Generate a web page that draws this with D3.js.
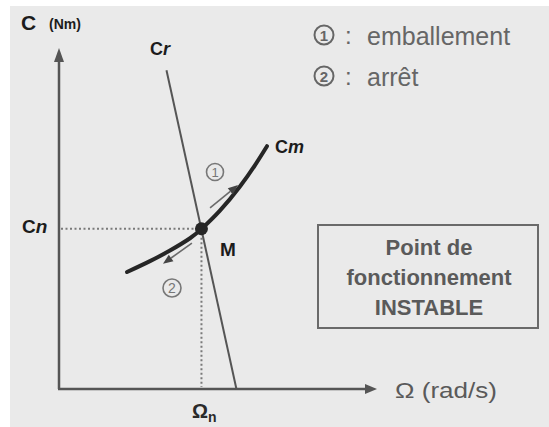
<!DOCTYPE html>
<html>
<head>
<meta charset="utf-8">
<script src="https://cdn.jsdelivr.net/npm/d3@7"></script>
<style>
  html, body { margin: 0; padding: 0; background: #ffffff; }
  svg { display: block; }
  text { font-family: "Liberation Sans", Arial, Helvetica, sans-serif; }
</style>
</head>
<body>
<svg id="chart" width="549" height="427"></svg>
<script>
// Resistant torque line Cr (speed, torque) in arbitrary units
const crOmega = [33.8, 55.8];
const crTorque = [93.5, 0];

// Motor torque curve Cm
const cmOmega  = [21.4, 28.6, 34.9, 41.2, 45.0, 50.6, 56.9, 61.6, 65.4];
const cmTorque = [34.3, 37.5, 40.6, 44.2, 47.1, 52.3, 59.4, 65.6, 71.2];

// Operating point M (Ωn, Cn)
const omegaN = 44.8;
const torqueN = 47.0;

// Direction arrows along Cm: [start, end] in (speed, torque)
const arrowRunaway = [[47.5, 53.1], [56.3, 59.8]];   // ① emballement
const arrowStop    = [[41.8, 42.8], [32.7, 36.7]];   // ② arrêt

const legendItems = [
  { num: "1", text: "emballement" },
  { num: "2", text: "arrêt" }
];
const boxLines = ["Point de", "fonctionnement", "INSTABLE"];

const svg = d3.select("#chart");

// paper background
svg.append("rect").attr("x", 0).attr("y", 0).attr("width", 549).attr("height", 427).attr("fill", "#ffffff");
svg.append("rect").attr("x", 10).attr("y", 6).attr("width", 539).attr("height", 421).attr("fill", "#eaeaea");

const x = d3.scaleLinear().domain([0, 100]).range([59, 377]);
const y = d3.scaleLinear().domain([0, 100]).range([389, 48]);

const axisColor = "#555";

// axes with arrowheads
const axes = svg.append("g");
axes.append("line")
  .attr("x1", x(0)).attr("y1", y(0)).attr("x2", x(0)).attr("y2", y(96))
  .attr("stroke", axisColor).attr("stroke-width", 2.5);
axes.append("line")
  .attr("x1", x(0) - 1).attr("y1", y(0)).attr("x2", x(96.5)).attr("y2", y(0))
  .attr("stroke", axisColor).attr("stroke-width", 2.5);
axes.append("path")
  .attr("d", `M${x(0)},${y(100)} L${x(0) - 5},${y(100) + 14} L${x(0) + 5},${y(100) + 14} Z`)
  .attr("fill", axisColor);
axes.append("path")
  .attr("d", `M${x(100)},${y(0)} L${x(100) - 12},${y(0) - 5} L${x(100) - 12},${y(0) + 5} Z`)
  .attr("fill", axisColor);

// dotted projections of M
const dotted = svg.append("g").attr("stroke", "#7a7a7a").attr("stroke-width", 2)
  .attr("stroke-dasharray", "2,2.5");
dotted.append("line")
  .attr("x1", x(0) + 2).attr("y1", y(torqueN)).attr("x2", x(omegaN)).attr("y2", y(torqueN));
dotted.append("line")
  .attr("x1", x(omegaN)).attr("y1", y(torqueN)).attr("x2", x(omegaN)).attr("y2", y(0) - 2);

// Cr line
const crData = crOmega.map((w, i) => [w, crTorque[i]]);
svg.append("path")
  .datum(crData)
  .attr("d", d3.line().x(d => x(d[0])).y(d => y(d[1])))
  .attr("fill", "none").attr("stroke", "#555").attr("stroke-width", 2);

// Cm curve
const cmData = cmOmega.map((w, i) => [w, cmTorque[i]]);
svg.append("path")
  .datum(cmData)
  .attr("d", d3.line().x(d => x(d[0])).y(d => y(d[1])).curve(d3.curveNatural))
  .attr("fill", "none").attr("stroke", "#262626").attr("stroke-width", 4)
  .attr("stroke-linecap", "round");

// direction arrows
function drawArrow(seg) {
  const [a, b] = seg;
  const x1 = x(a[0]), y1 = y(a[1]), x2 = x(b[0]), y2 = y(b[1]);
  const ang = Math.atan2(y2 - y1, x2 - x1);
  const len = 10, half = 4;
  const bx = x2 - len * Math.cos(ang), by = y2 - len * Math.sin(ang);
  svg.append("line")
    .attr("x1", x1).attr("y1", y1).attr("x2", bx).attr("y2", by)
    .attr("stroke", "#6a6a6a").attr("stroke-width", 1.6);
  svg.append("path")
    .attr("d", `M${x2},${y2} L${bx - half * Math.sin(ang)},${by + half * Math.cos(ang)} L${bx + half * Math.sin(ang)},${by - half * Math.cos(ang)} Z`)
    .attr("fill", "#444");
}
drawArrow(arrowRunaway);
drawArrow(arrowStop);

// operating point M
svg.append("circle")
  .attr("cx", x(omegaN)).attr("cy", y(torqueN)).attr("r", 6.5)
  .attr("fill", "#262626");

// circled numbers
function circled(cx, cy, r, num, size) {
  svg.append("circle").attr("cx", cx).attr("cy", cy).attr("r", r)
    .attr("fill", "none").attr("stroke", "#777").attr("stroke-width", 1.6);
  svg.append("text").attr("x", cx).attr("y", cy + size * 0.36)
    .attr("text-anchor", "middle").attr("font-size", size)
    .attr("fill", "#777").text(num);
}
circled(215, 172, 8.5, "1", 13);
circled(172, 288, 9, "2", 14);

// dark labels
const dark = "#1c1c1c";
function label(px, py, main, sub, size, subSize, anchor) {
  const t = svg.append("text").attr("x", px).attr("y", py)
    .attr("font-size", size).attr("font-weight", "bold").attr("fill", dark)
    .attr("text-anchor", anchor || "start");
  t.append("tspan").text(main);
  if (sub) t.append("tspan").attr("font-style", "italic").attr("font-size", subSize).text(sub);
  return t;
}
label(21, 30, "C", null, 21);
svg.append("text").attr("x", 49).attr("y", 29).attr("font-size", 14)
  .attr("font-weight", "bold").attr("fill", dark).text("(Nm)");
label(150, 55, "C", "r", 18, 18);
label(275, 153, "C", "m", 18, 18);
label(22, 233, "C", "n", 19, 19);
label(220, 256, "M", null, 19);

const omegaLab = svg.append("text").attr("x", 192).attr("y", 418)
  .attr("font-size", 20).attr("font-weight", "bold").attr("fill", "#2a2a2a");
omegaLab.append("tspan").text("Ω");
omegaLab.append("tspan").attr("dy", 4).attr("font-size", 14).text("n");

// axis title
svg.append("text").attr("x", 395).attr("y", 398)
  .attr("font-size", 22).attr("fill", "#5a5a5a")
  .attr("textLength", 102).attr("lengthAdjust", "spacingAndGlyphs")
  .text("Ω (rad/s)");

// legend
const legend = svg.append("g");
legendItems.forEach((d, i) => {
  const cy = 35 + i * 41;
  legend.append("circle").attr("cx", 324).attr("cy", cy).attr("r", 9.5)
    .attr("fill", "none").attr("stroke", "#666").attr("stroke-width", 2);
  legend.append("text").attr("x", 324).attr("y", cy + 5.5).attr("text-anchor", "middle")
    .attr("font-size", 15).attr("font-weight", "bold").attr("fill", "#666").text(d.num);
  legend.append("text").attr("x", 345).attr("y", cy + 9)
    .attr("font-size", 24).attr("fill", "#666").text(":");
  legend.append("text").attr("x", 367).attr("y", cy + 10)
    .attr("font-size", 25).attr("fill", "#666").text(d.text);
});

// info box
svg.append("rect").attr("x", 318).attr("y", 225).attr("width", 220).attr("height", 103)
  .attr("fill", "none").attr("stroke", "#6a6a6a").attr("stroke-width", 2);
boxLines.forEach((s, i) => {
  svg.append("text").attr("x", 429).attr("y", 255 + i * 30)
    .attr("text-anchor", "middle").attr("font-size", 22).attr("font-weight", "bold")
    .attr("fill", "#5a5a5a").text(s);
});
</script>
</body>
</html>
